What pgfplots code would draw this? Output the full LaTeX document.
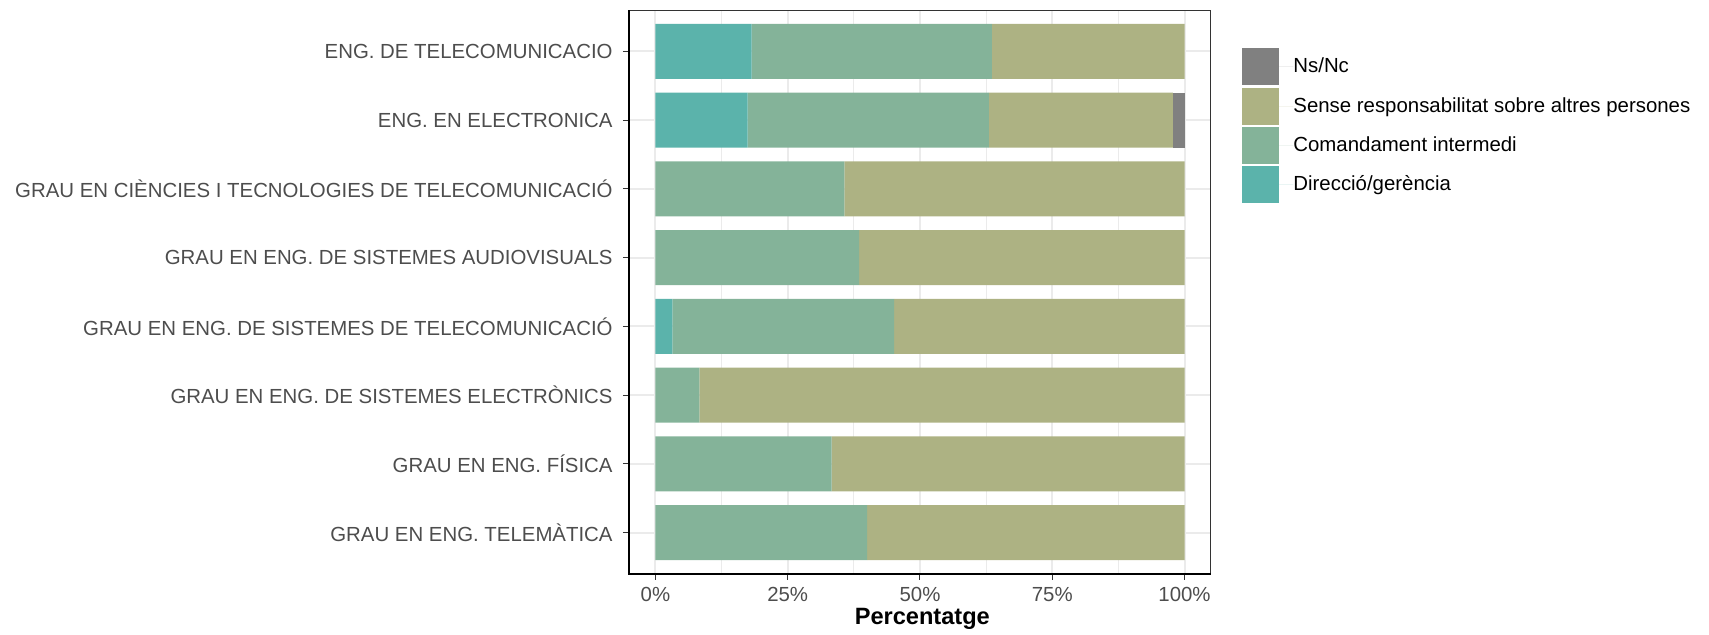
\documentclass[border=0pt]{standalone}
\usepackage{pgfplots}
\pgfplotsset{compat=1.18}
\usepackage{pgfplotstable}
\usepackage{fontspec}
\setmainfont{Liberation Sans}
\definecolor{cdir}{HTML}{5BB3AB}
\definecolor{ccom}{HTML}{84B399}
\definecolor{csen}{HTML}{ADB283}
\definecolor{cns}{HTML}{808080}
\definecolor{tickgray}{HTML}{4D4D4D}
\definecolor{gridgray}{HTML}{EBEBEB}

% y: 8 = top row
\pgfplotstableread{
y dir com sen ns
8 18.2 45.4 36.4 0
7 17.4 45.6 34.8 2.2
6 0 35.7 64.3 0
5 0 38.5 61.5 0
4 3.2 41.9 54.9 0
3 0 8.3 91.7 0
2 0 33.3 66.7 0
1 0 40.0 60.0 0
}\datatable

\begin{document}
\begin{tikzpicture}
\useasboundingbox (-314.5pt,-30.5pt) rectangle (540pt,287pt);
\begin{axis}[
  name=ax,
  at={(0,0)}, anchor=south west,
  scale only axis,
  width=291pt, height=282pt,
  xbar stacked,
  bar width=0.8,
  xmin=-5, xmax=105,
  ymin=0.4, ymax=8.6,
  xtick={0,25,50,75,100},
  xticklabels={0\%,25\%,50\%,75\%,100\%},
  minor xtick={12.5,37.5,62.5,87.5},
  ytick={1,2,3,4,5,6,7,8},
  yticklabels={GRAU EN ENG. TELEMÀTICA,GRAU EN ENG. FÍSICA,GRAU EN ENG. DE SISTEMES ELECTRÒNICS,GRAU EN ENG. DE SISTEMES DE TELECOMUNICACIÓ,GRAU EN ENG. DE SISTEMES AUDIOVISUALS,GRAU EN CIÈNCIES I TECNOLOGIES DE TELECOMUNICACIÓ,ENG. EN ELECTRONICA,ENG. DE TELECOMUNICACIO},
  xtick pos=bottom, ytick pos=left,
  tick align=outside,
  major tick length=3pt,
  minor tick length=0pt,
  major tick style={draw=black!80, line width=0.5pt},
  xmajorgrids, xminorgrids, ymajorgrids,
  major grid style={draw=gridgray, line width=1pt},
  minor grid style={draw=gridgray, line width=0.5pt},
  axis line style={draw=black!80, line width=0.5pt},
  tick label style={font=\fontsize{10.2}{12}\selectfont, text=tickgray},
  yticklabel style={anchor=east, inner sep=0pt, xshift=-5pt},
  xticklabel style={anchor=north, inner sep=0pt, yshift=-3.5pt},
  xlabel={Percentatge},
  every axis x label/.style={at={(axis description cs:0.504,0)}, anchor=base, yshift=-25.5pt, font=\fontsize{11.8}{14}\selectfont\bfseries},
  legend style={at={(axis description cs:1.0533,0.9326)}, anchor=north west,
    draw=none, fill=none, inner sep=0pt, row sep=1.1pt,
    nodes={inner sep=0pt}, font=\fontsize{10.2}{12}\selectfont},
  legend cell align=left,
  legend image code/.code={\fill[#1] (0pt,-9.25pt) rectangle (18.5pt,9.25pt); \path (0pt,0pt) -- (25.5pt,0pt);},
  reverse legend,
]
\addplot[fill=cdir, draw=none] table[x=dir, y=y] {\datatable};
\addplot[fill=ccom, draw=none] table[x=com, y=y] {\datatable};
\addplot[fill=csen, draw=none] table[x=sen, y=y] {\datatable};
\addplot[fill=cns, draw=none] table[x=ns, y=y] {\datatable};
\legend{Direcció/gerència,Comandament intermedi,Sense responsabilitat sobre altres persones,Ns/Nc}
\end{axis}
\draw[black, line width=1pt] (ax.north west) -- (ax.south west) -- (ax.south east);
\end{tikzpicture}
\end{document}
